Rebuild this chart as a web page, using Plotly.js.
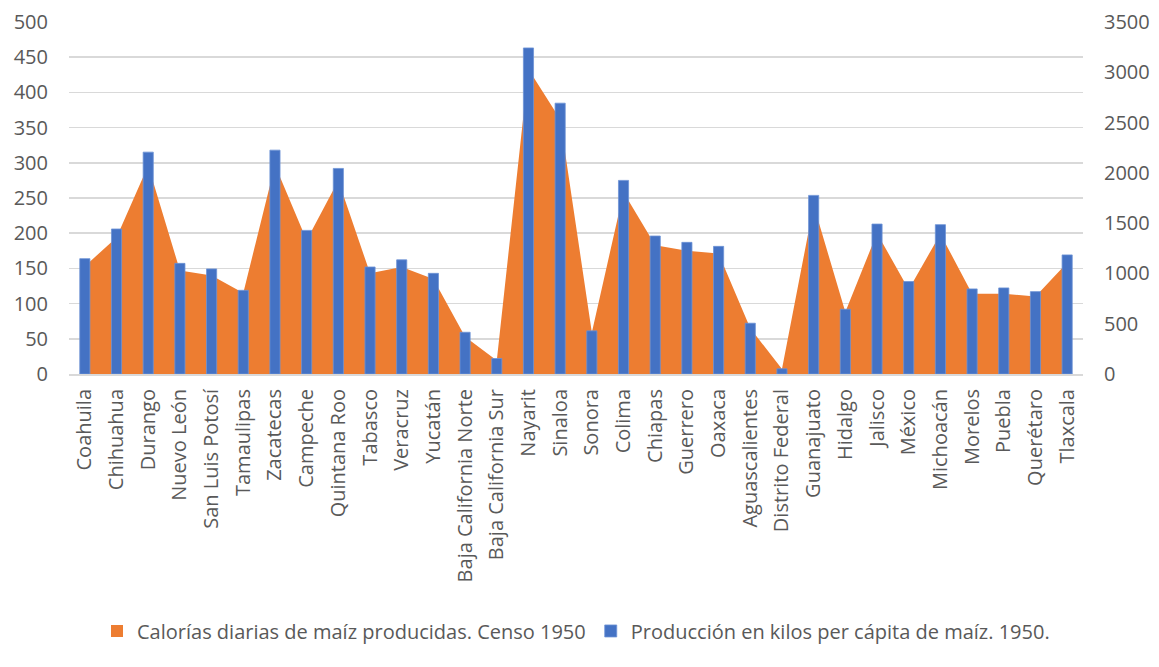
<!DOCTYPE html>
<html>
<head>
<meta charset="utf-8">
<script src="https://cdn.plot.ly/plotly-3.0.1.min.js"></script>
<style>html,body{margin:0;padding:0;background:#fff;}#chart{width:1159px;height:667px;}</style>
</head>
<body>
<div id="chart"></div>
<script>
const states = ["Coahuila","Chihuahua","Durango","Nuevo León","San Luis Potosí","Tamaulipas","Zacatecas","Campeche","Quintana Roo","Tabasco","Veracruz","Yucatán","Baja California Norte","Baja California Sur","Nayarit","Sinaloa","Sonora","Colima","Chiapas","Guerrero","Oaxaca","Aguascalientes","Distrito Federal","Guanajuato","Hidalgo","Jalisco","México","Michoacán","Morelos","Puebla","Querétaro","Tlaxcala"];
const calorias = [153,194,296,147,140,115,297,190,275,143,152,135,53,19,433,362,59,258,183,175,171,65,7,240,88,200,120,199,114,114,110,158];
const produccion = [1147,1442,2206,1100,1045,832,2226,1428,2044,1064,1135,1001,415,154,3242,2693,429,1925,1372,1309,1269,505,52,1776,644,1491,919,1485,846,856,819,1184];
const leftTicks = [0,50,100,150,200,250,300,350,400,450,500];
const rightTicks = [0,500,1000,1500,2000,2500,3000,3500];
const serieCal = 'Calorías diarias de maíz producidas. Censo 1950';
const serieProd = 'Producción en kilos per cápita de maíz. 1950.';

const txt = '#595959';
const fontFam = '"Open Sans", "Noto Sans", sans-serif';

const traces = [
  {
    type: 'scatter', mode: 'lines', x: states, y: calorias,
    name: serieCal, showlegend: false, legendgroup: 'cal',
    fill: 'tozeroy', fillcolor: '#ED7D31',
    line: {width: 0, color: '#ED7D31'},
    yaxis: 'y'
  },
  {
    /* legend entry only (square swatch like the reference); no drawable values */
    type: 'bar', x: [states[0]], y: [null], name: serieCal, legendgroup: 'cal',
    marker: {color: '#ED7D31'}, yaxis: 'y', showlegend: true
  },
  {
    type: 'bar', x: states, y: produccion, name: serieProd,
    marker: {color: '#4472C4', line: {width: 0.8, color: '#6d93d6'}},
    width: 0.32, yaxis: 'y2'
  }
];

const layout = {
  width: 1159, height: 667,
  margin: {l: 69, r: 76, t: 22, b: 292.5},
  paper_bgcolor: '#ffffff', plot_bgcolor: 'rgba(0,0,0,0)',
  font: {family: fontFam, color: txt, size: 20},
  showlegend: true,
  legend: {orientation: 'h', x: 0.5, xanchor: 'center', y: -0.73, yanchor: 'middle',
           font: {size: 20, color: txt}, traceorder: 'normal', itemwidth: 30},
  xaxis: {
    type: 'category', range: [-0.5, states.length - 0.5],
    tickangle: -90, ticks: '', showgrid: false, zeroline: false,
    showline: true, linecolor: '#d9d9d9', linewidth: 2,
    tickfont: {size: 20, color: txt}, ticklabelstandoff: 5, automargin: false
  },
  yaxis: {
    range: [0, 500], tickvals: leftTicks, ticktext: leftTicks.map(String),
    showgrid: true, gridcolor: '#d9d9d9', gridwidth: 1.5,
    zeroline: false, showline: false, ticks: '',
    tickfont: {size: 20, color: txt}, ticklabelstandoff: 20, automargin: false
  },
  yaxis2: {
    range: [0, 3500], tickvals: rightTicks, ticktext: rightTicks.map(String),
    overlaying: 'y', side: 'right', showgrid: false, zeroline: false,
    showline: false, ticks: '',
    tickfont: {size: 20, color: txt}, ticklabelstandoff: 20, automargin: false
  },
  bargap: 0.68
};

Plotly.newPlot('chart', traces, layout, {staticPlot: true, displayModeBar: false});
</script>
</body>
</html>
